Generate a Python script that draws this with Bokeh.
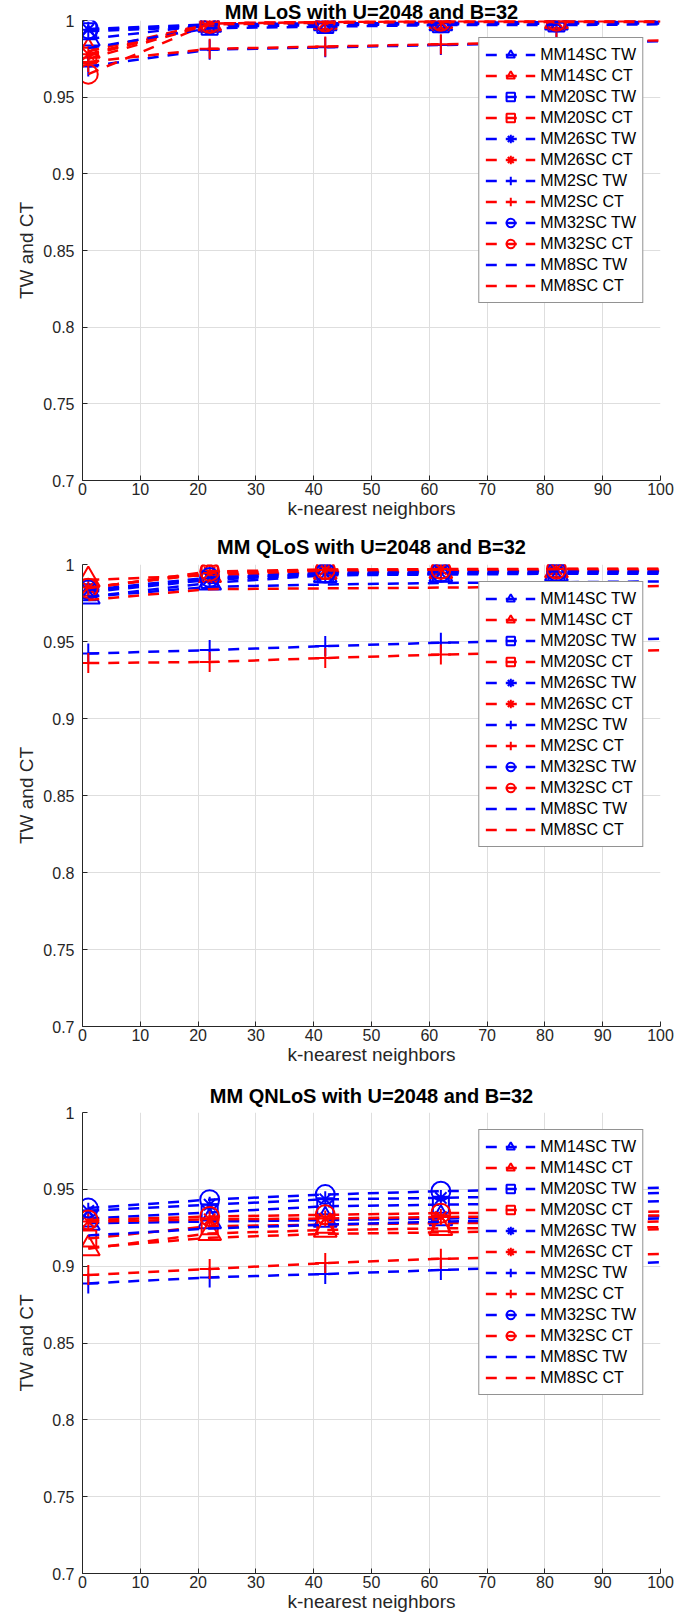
from bokeh.plotting import figure
from bokeh.layouts import column
from bokeh.models import Range1d, FixedTicker, CustomJSTickFormatter, Legend, LegendItem
from bokeh.embed import file_html
from bokeh.resources import INLINE

# ---------------- data ----------------
X_VALS = [1, 22, 42, 62, 82, 100]
MARKER_COUNT = 5  # markers drawn at the first five x positions
X_TICKS = [0, 10, 20, 30, 40, 50, 60, 70, 80, 90, 100]
Y_TICKS = [0.7, 0.75, 0.8, 0.85, 0.9, 0.95, 1.0]
SERIES_NAMES = ["MM14SC TW", "MM14SC CT", "MM20SC TW", "MM20SC CT", "MM26SC TW", "MM26SC CT",
                "MM2SC TW", "MM2SC CT", "MM32SC TW", "MM32SC CT", "MM8SC TW", "MM8SC CT"]
TITLES = ["MM LoS with U=2048 and B=32", "MM QLoS with U=2048 and B=32", "MM QNLoS with U=2048 and B=32"]

# LoS
LOS_MM14SC_TW = [0.988, 0.997, 0.998, 0.998, 0.9985, 0.999]
LOS_MM14SC_CT = [0.980, 0.998, 0.999, 0.9995, 0.9995, 0.9995]
LOS_MM20SC_TW = [0.993, 0.996, 0.997, 0.9975, 0.998, 0.998]
LOS_MM20SC_CT = [0.977, 0.998, 0.999, 0.999, 0.9995, 0.9995]
LOS_MM26SC_TW = [0.994, 0.997, 0.998, 0.998, 0.9985, 0.999]
LOS_MM26SC_CT = [0.978, 0.998, 0.999, 0.9993, 0.9995, 0.9995]
LOS_MM2SC_TW = [0.970, 0.981, 0.9825, 0.984, 0.9855, 0.9865]
LOS_MM2SC_CT = [0.973, 0.9815, 0.983, 0.9845, 0.986, 0.987]
LOS_MM32SC_TW = [0.9945, 0.9975, 0.998, 0.9985, 0.999, 0.999]
LOS_MM32SC_CT = [0.965, 0.998, 0.999, 0.9995, 0.9995, 0.9995]
LOS_MM8SC_TW = [0.982, 0.995, 0.996, 0.997, 0.997, 0.9975]
LOS_MM8SC_CT = [0.975, 0.9975, 0.9985, 0.999, 0.999, 0.999]

# QLoS
QLOS_MM14SC_TW = [0.979, 0.988, 0.993, 0.9935, 0.994, 0.994]
QLOS_MM14SC_CT = [0.990, 0.993, 0.995, 0.9955, 0.996, 0.996]
QLOS_MM20SC_TW = [0.982, 0.990, 0.9935, 0.994, 0.9945, 0.9945]
QLOS_MM20SC_CT = [0.985, 0.994, 0.996, 0.9965, 0.997, 0.997]
QLOS_MM26SC_TW = [0.983, 0.991, 0.994, 0.9945, 0.995, 0.995]
QLOS_MM26SC_CT = [0.985, 0.9945, 0.9965, 0.997, 0.997, 0.997]
QLOS_MM2SC_TW = [0.9422, 0.9444, 0.947, 0.9492, 0.9505, 0.9518]
QLOS_MM2SC_CT = [0.936, 0.9367, 0.9393, 0.9415, 0.943, 0.9444]
QLOS_MM32SC_TW = [0.9835, 0.9915, 0.9945, 0.995, 0.9955, 0.9955]
QLOS_MM32SC_CT = [0.9845, 0.9955, 0.9967, 0.9968, 0.997, 0.997]
QLOS_MM8SC_TW = [0.979, 0.9855, 0.987, 0.988, 0.9885, 0.989]
QLOS_MM8SC_CT = [0.977, 0.984, 0.9845, 0.985, 0.9855, 0.986]

# QNLoS
QNLOS_MM14SC_TW = [0.928, 0.929, 0.930, 0.931, 0.932, 0.9325]
QNLOS_MM14SC_CT = [0.9114, 0.9213, 0.9235, 0.9246, 0.925, 0.9253]
QNLOS_MM20SC_TW = [0.931, 0.935, 0.939, 0.940, 0.941, 0.9422]
QNLOS_MM20SC_CT = [0.918, 0.926, 0.927, 0.928, 0.9285, 0.929]
QNLOS_MM26SC_TW = [0.936, 0.940, 0.9435, 0.9444, 0.946, 0.9477]
QNLOS_MM26SC_CT = [0.929, 0.9305, 0.931, 0.932, 0.9325, 0.933]
QNLOS_MM2SC_TW = [0.8888, 0.8927, 0.8949, 0.8975, 0.900, 0.9026]
QNLOS_MM2SC_CT = [0.8943, 0.8982, 0.902, 0.9048, 0.9065, 0.908]
QNLOS_MM32SC_TW = [0.9378, 0.9433, 0.9466, 0.9488, 0.950, 0.951]
QNLOS_MM32SC_CT = [0.930, 0.9323, 0.9334, 0.9345, 0.935, 0.9355]
QNLOS_MM8SC_TW = [0.920, 0.9245, 0.927, 0.929, 0.930, 0.931]
QNLOS_MM8SC_CT = [0.912, 0.9185, 0.921, 0.922, 0.923, 0.924]

PLOT_DATA = [
    [LOS_MM14SC_TW, LOS_MM14SC_CT, LOS_MM20SC_TW, LOS_MM20SC_CT, LOS_MM26SC_TW, LOS_MM26SC_CT,
     LOS_MM2SC_TW, LOS_MM2SC_CT, LOS_MM32SC_TW, LOS_MM32SC_CT, LOS_MM8SC_TW, LOS_MM8SC_CT],
    [QLOS_MM14SC_TW, QLOS_MM14SC_CT, QLOS_MM20SC_TW, QLOS_MM20SC_CT, QLOS_MM26SC_TW, QLOS_MM26SC_CT,
     QLOS_MM2SC_TW, QLOS_MM2SC_CT, QLOS_MM32SC_TW, QLOS_MM32SC_CT, QLOS_MM8SC_TW, QLOS_MM8SC_CT],
    [QNLOS_MM14SC_TW, QNLOS_MM14SC_CT, QNLOS_MM20SC_TW, QNLOS_MM20SC_CT, QNLOS_MM26SC_TW, QNLOS_MM26SC_CT,
     QNLOS_MM2SC_TW, QNLOS_MM2SC_CT, QNLOS_MM32SC_TW, QNLOS_MM32SC_CT, QNLOS_MM8SC_TW, QNLOS_MM8SC_CT],
]

# ---------------- styles ----------------
FONT = "Liberation Sans"
AX_COLOR = "#262626"
GRID_COLOR = "#dedede"
BLUE = "#0000ff"
RED = "#ff0000"
MARKERS = ["triangle", "triangle", "square", "square", "asterisk", "asterisk",
           "cross", "cross", "circle", "circle", None, None]
MSIZE = {"triangle": 23, "square": 16, "asterisk": 16, "cross": 20, "circle": 19}

# (height, top border, bottom border, title standoff)
LAYOUT = [
    (524, 18, 44, -4),
    (546, 40, 44, 13),
    (545, 42, 42, 12),
]


def make_fig(idx):
    h, bt, bb, tso = LAYOUT[idx]
    p = figure(width=674, height=h, output_backend="svg", toolbar_location=None,
               x_range=Range1d(0, 100), y_range=Range1d(0.7, 1.0),
               min_border_left=82, min_border_right=14, min_border_top=bt, min_border_bottom=bb)
    p.title.text = TITLES[idx]
    p.title.text_font = FONT
    p.title.text_font_size = "20px"
    p.title.text_font_style = "bold"
    p.title.text_color = "black"
    p.title.align = "center"
    p.title.standoff = tso
    p.title.offset = 0
    p.outline_line_color = None
    p.background_fill_color = "white"
    p.border_fill_color = "white"

    for ax in (p.xaxis[0], p.yaxis[0]):
        ax.axis_line_color = AX_COLOR
        ax.axis_line_width = 1
        ax.major_tick_line_color = AX_COLOR
        ax.major_tick_in = 5
        ax.major_tick_out = 0
        ax.minor_tick_line_color = None
        ax.major_label_text_font = FONT
        ax.major_label_text_font_size = "16px"
        ax.major_label_text_color = AX_COLOR
        ax.axis_label_text_font = FONT
        ax.axis_label_text_font_size = "19px"
        ax.axis_label_text_font_style = "normal"
        ax.axis_label_text_color = AX_COLOR
    p.xaxis[0].major_label_standoff = 2
    p.yaxis[0].major_label_standoff = 8
    p.xaxis[0].ticker = FixedTicker(ticks=X_TICKS)
    p.yaxis[0].ticker = FixedTicker(ticks=Y_TICKS)
    p.yaxis[0].formatter = CustomJSTickFormatter(code="return (Math.round(tick*100)/100).toString();")
    p.xaxis[0].axis_label = "k-nearest neighbors"
    p.yaxis[0].axis_label = "TW and CT"
    p.xaxis[0].axis_label_standoff = 0
    p.yaxis[0].axis_label_standoff = 3
    p.xgrid[0].ticker = FixedTicker(ticks=X_TICKS)
    p.ygrid[0].ticker = FixedTicker(ticks=Y_TICKS)
    p.xgrid.grid_line_color = GRID_COLOR
    p.ygrid.grid_line_color = GRID_COLOR
    p.xgrid.grid_line_width = 1
    p.ygrid.grid_line_width = 1

    items = []
    for k, (name, ys) in enumerate(zip(SERIES_NAMES, PLOT_DATA[idx])):
        color = BLUE if name.endswith("TW") else RED
        lr = p.line(X_VALS, ys, line_color=color, line_width=2.5, line_dash="11 9")
        rends = [lr]
        mk = MARKERS[k]
        if mk is not None:
            sr = p.scatter(X_VALS[:MARKER_COUNT], ys[:MARKER_COUNT], marker=mk, size=MSIZE[mk],
                           line_color=color, fill_color=None, line_width=2)
            rends.append(sr)
        items.append(LegendItem(label=name, renderers=rends))

    legend = Legend(items=items, location="top_right", margin=17, padding=6, spacing=0,
                    glyph_width=50, glyph_height=21, label_height=21, label_standoff=5,
                    label_text_font=FONT, label_text_font_size="16px", label_text_color="black",
                    border_line_color=AX_COLOR, border_line_width=1,
                    background_fill_color="white", background_fill_alpha=1.0)
    p.add_layout(legend, "center")
    return p


figs = [make_fig(i) for i in range(3)]
layout = column(*figs, spacing=0)
open("out.html", "w").write(file_html(layout, INLINE))
